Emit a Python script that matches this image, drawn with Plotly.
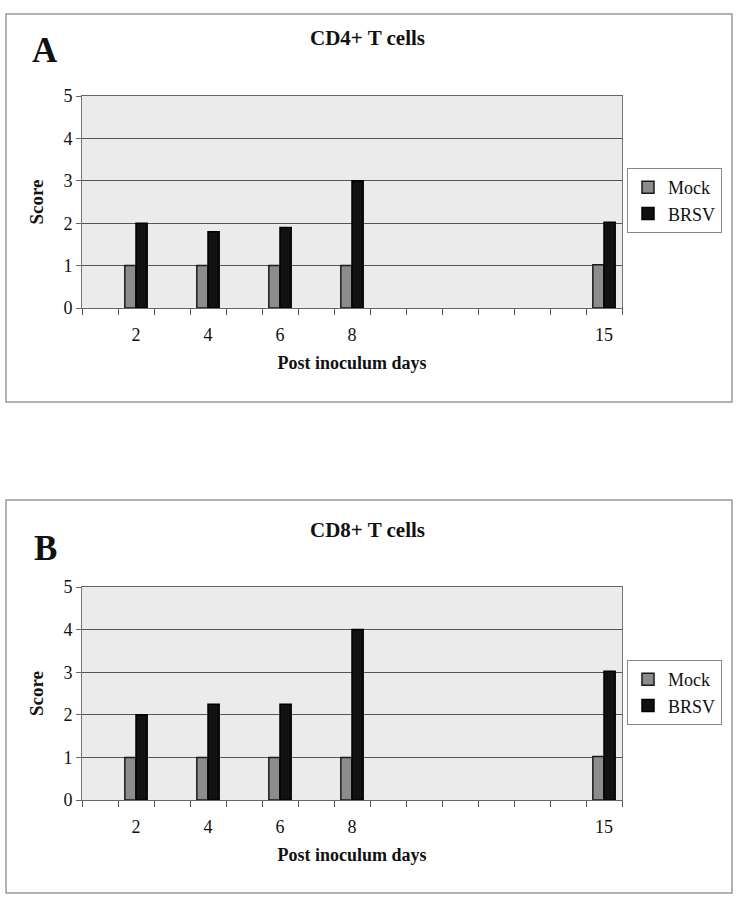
import plotly.graph_objects as go

days = [2, 4, 6, 8, 15]
tick_labels = ["2", "4", "6", "8", "15"]
cd4_mock = [1.0, 1.0, 1.0, 1.0, 1.02]
cd4_brsv = [2.0, 1.8, 1.9, 3.0, 2.02]
cd8_mock = [1.0, 1.0, 1.0, 1.0, 1.02]
cd8_brsv = [2.0, 2.25, 2.25, 4.0, 3.02]

W, H = 736, 900
SERIF = "Liberation Serif, Times New Roman, serif"

def px(x):
    return x / W

def py(y):
    return 1 - y / H

fig = go.Figure()

bw = 0.31
for i, (mock, brsv) in enumerate([(cd4_mock, cd4_brsv), (cd8_mock, cd8_brsv)]):
    xa = "x" if i == 0 else "x2"
    ya = "y" if i == 0 else "y2"
    lg = "legend" if i == 0 else "legend2"
    fig.add_trace(go.Bar(x=days, y=mock, name="Mock", xaxis=xa, yaxis=ya, legend=lg,
                         width=bw, offset=-bw,
                         marker=dict(color="#8c8c8c", line=dict(color="#1a1a1a", width=1.5))))
    fig.add_trace(go.Bar(x=days, y=brsv, name="BRSV", xaxis=xa, yaxis=ya, legend=lg,
                         width=bw, offset=0,
                         marker=dict(color="#111111", line=dict(color="#000000", width=1.5))))

def xaxis_cfg(domain, anchor):
    return dict(domain=domain, anchor=anchor, range=[0.5, 15.5], automargin=False,
                tickmode="array", tickvals=days, ticktext=tick_labels,
                ticks="outside", ticklen=10, tickcolor="rgba(0,0,0,0)",
                tickfont=dict(family=SERIF, size=18, color="#111"),
                minor=dict(tickmode="linear", tick0=0.5, dtick=1, ticks="outside",
                           ticklen=6, tickcolor="#555", tickwidth=1),
                showline=True, linecolor="#666", linewidth=1, mirror=True,
                showgrid=False, zeroline=False,
                title=dict(text="<b>Post inoculum days</b>", standoff=12,
                           font=dict(family=SERIF, size=18, color="#111")))

def yaxis_cfg(domain, anchor):
    return dict(domain=domain, anchor=anchor, range=[0, 5], dtick=1, automargin=False,
                ticks="outside", ticklen=5, tickcolor="#666",
                tickfont=dict(family=SERIF, size=18, color="#111"),
                showline=True, linecolor="#777", linewidth=1, mirror=True,
                showgrid=True, gridcolor="#555555", gridwidth=1, zeroline=False,
                title=dict(text="<b>Score</b>", standoff=14,
                           font=dict(family=SERIF, size=19, color="#111")))

legend_common = dict(font=dict(family=SERIF, size=18, color="#111"),
                     bgcolor="white", bordercolor="#888", borderwidth=1,
                     xanchor="right", yanchor="top", itemwidth=30,
                     tracegroupgap=0)

def label(text, x, y, size):
    return dict(text=text, x=px(x), y=py(y), xref="paper", yref="paper",
                xanchor="center", yanchor="middle", showarrow=False,
                font=dict(family=SERIF, size=size, color="#111"))

fig.update_layout(
    width=W, height=H,
    margin=dict(l=0, r=0, t=0, b=0, pad=0, autoexpand=False),
    paper_bgcolor="white",
    plot_bgcolor="#ebebeb",
    barmode="overlay",
    showlegend=True,
    xaxis=xaxis_cfg([px(82), px(622)], "y"),
    yaxis=yaxis_cfg([py(308), py(96)], "x"),
    xaxis2=xaxis_cfg([px(82), px(622)], "y2"),
    yaxis2=yaxis_cfg([py(800), py(587)], "x2"),
    legend=dict(x=px(722), y=py(168), **legend_common),
    legend2=dict(x=px(722), y=py(660), **legend_common),
    shapes=[
        dict(type="rect", xref="paper", yref="paper", x0=px(6), x1=px(732), y0=py(402), y1=py(14),
             line=dict(color="#9a9a9a", width=1.5), layer="below"),
        dict(type="rect", xref="paper", yref="paper", x0=px(6), x1=px(732), y0=py(893), y1=py(500),
             line=dict(color="#9a9a9a", width=1.5), layer="below"),
    ],
    annotations=[
        label("<b>CD4+ T cells</b>", 367, 38, 21),
        label("<b>A</b>", 45, 50, 35),
        label("<b>CD8+ T cells</b>", 367, 530, 21),
        label("<b>B</b>", 45, 548, 35),
    ],
)

fig.write_html("out.html", config={"displayModeBar": False},
               post_script="document.body.style.margin='0';document.body.style.overflow='hidden';")
